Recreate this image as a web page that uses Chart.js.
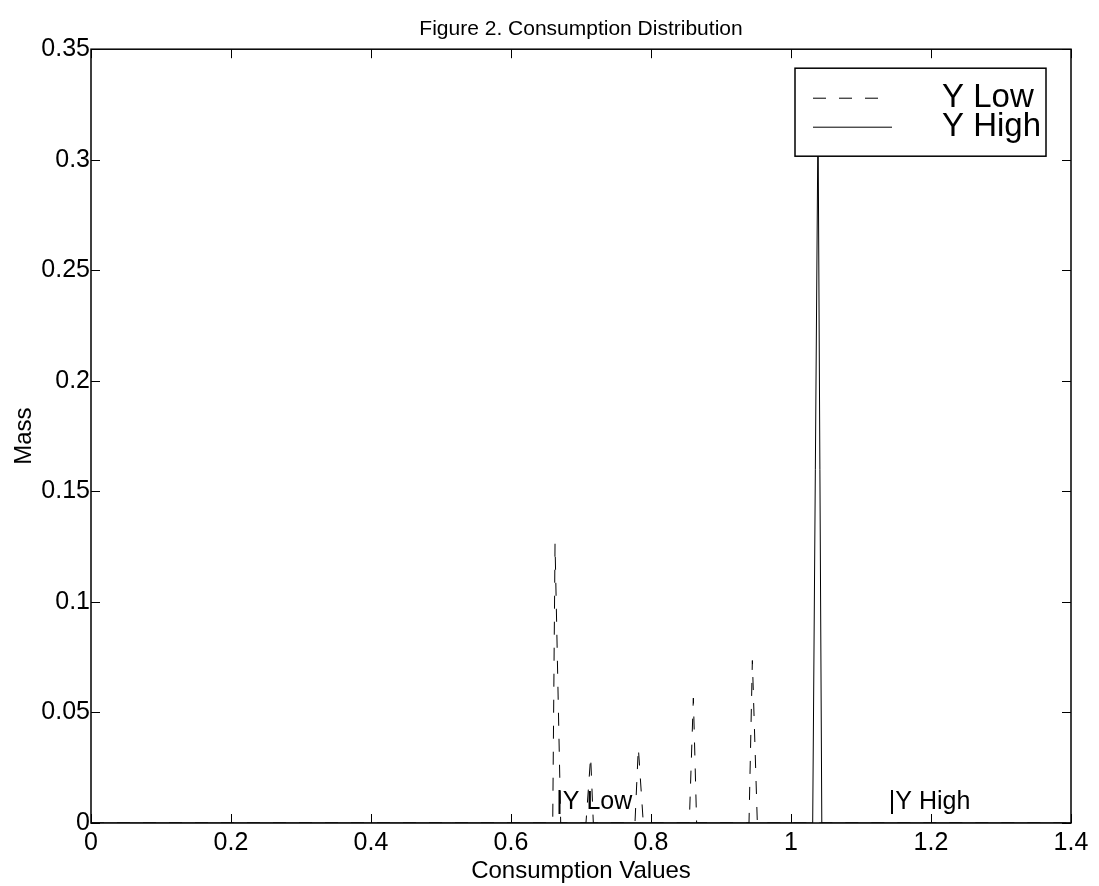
<!DOCTYPE html>
<html lang="en">
<head>
<meta charset="UTF-8">
<title>Consumption Distribution</title>
<script src="https://cdn.jsdelivr.net/npm/chart.js"></script>
<style>
  html, body { margin: 0; padding: 0; background: #fff; }
  #wrap { width: 1099px; height: 886px; }
</style>
</head>
<body>
<div id="wrap"><canvas id="distChart" width="1099" height="886"></canvas></div>
<script>
// data
const yLowX    = [0, 0.6596, 0.6629, 0.6710, 0.7071, 0.7138, 0.7176, 0.7771, 0.7819, 0.7890, 0.8547, 0.8605, 0.8652, 0.9400, 0.9448, 0.9519, 1.4];
const yLowMass = [0, 0,      0.1263, 0,      0,      0.0300, 0,      0,      0.0340, 0,      0,      0.0565, 0,      0,      0.0735, 0,      0];
const yHighX    = [0, 1.0310, 1.0386, 1.0440, 1.4];
const yHighMass = [0, 0,      0.3200, 0,      0];

const xTicks = [0, 0.2, 0.4, 0.6, 0.8, 1, 1.2, 1.4];
const yTicks = [0, 0.05, 0.1, 0.15, 0.2, 0.25, 0.3, 0.35];

const seriesNames = ['Y Low', 'Y High'];
const markerLabels = ['|Y Low', '|Y High'];
const markerX = [0.669, 1.144];
const markerY = [0.0065, 0.0065];

const FONT = "'Liberation Sans', Arial, sans-serif";

function toPoints(xs, ys) {
    return xs.map((x, i) => ({ x: x, y: ys[i] }));
}

// box round the axes, inward ticks, legend and the two text markers
const matlabLook = {
    id: 'matlabLook',
    afterDatasetsDraw(chart) {
        const ctx = chart.ctx;
        const a = chart.chartArea;
        const xs = chart.scales.x, ys = chart.scales.y;
        ctx.save();
        ctx.strokeStyle = '#000';
        ctx.lineWidth = 1;
        const tl = 9;
        ctx.beginPath();
        xTicks.forEach(v => {
            const px = Math.round(xs.getPixelForValue(v)) + 0.5;
            ctx.moveTo(px, a.bottom); ctx.lineTo(px, a.bottom - tl);
            ctx.moveTo(px, a.top); ctx.lineTo(px, a.top + tl);
        });
        yTicks.forEach(v => {
            const py = Math.round(ys.getPixelForValue(v)) + 0.5;
            ctx.moveTo(a.left, py); ctx.lineTo(a.left + tl, py);
            ctx.moveTo(a.right, py); ctx.lineTo(a.right - tl, py);
        });
        ctx.stroke();
        ctx.lineWidth = 1.5;
        ctx.strokeRect(a.left, a.top, a.right - a.left, a.bottom - a.top);

        // markers under the peaks
        ctx.fillStyle = '#000';
        ctx.font = '25px ' + FONT;
        ctx.textBaseline = 'alphabetic';
        ctx.textAlign = 'left';
        markerLabels.forEach((t, i) => {
            ctx.fillText(t, xs.getPixelForValue(markerX[i]) - 3, ys.getPixelForValue(markerY[i]));
        });

        // legend
        const lx = a.right - 276, ly = a.top + 19, lw = 251, lh = 88;
        ctx.fillStyle = '#fff';
        ctx.fillRect(lx, ly, lw, lh);
        ctx.lineWidth = 1.5;
        ctx.strokeStyle = '#000';
        ctx.strokeRect(lx, ly, lw, lh);
        chart.data.datasets.forEach((ds, i) => {
            const cy = ly + 30 + i * 29;
            ctx.beginPath();
            ctx.lineWidth = 1;
            ctx.setLineDash(ds.borderDash || []);
            ctx.moveTo(lx + 18, cy);
            ctx.lineTo(lx + (i === 0 ? 84 : 97), cy);
            ctx.stroke();
            ctx.setLineDash([]);
            ctx.fillStyle = '#000';
            ctx.font = '33px ' + FONT;
            ctx.textBaseline = 'alphabetic';
            ctx.fillText(ds.label, lx + 147, cy + 8.5);
        });
        ctx.restore();
    }
};

const ctx = document.getElementById('distChart').getContext('2d');
const distChart = new Chart(ctx, {
    type: 'scatter',
    data: {
        datasets: [{
            label: seriesNames[0],
            data: toPoints(yLowX, yLowMass),
            showLine: true,
            borderColor: '#000',
            borderWidth: 1,
            borderDash: [13, 13],
            pointRadius: 0,
            tension: 0
        }, {
            label: seriesNames[1],
            data: toPoints(yHighX, yHighMass),
            showLine: true,
            borderColor: '#000',
            borderWidth: 1,
            pointRadius: 0,
            tension: 0
        }]
    },
    options: {
        responsive: false,
        animation: false,
        layout: { padding: { left: 0, right: 28, top: 0, bottom: 0 } },
        plugins: {
            legend: { display: false },
            tooltip: { enabled: false },
            title: {
                display: true,
                text: 'Figure 2. Consumption Distribution',
                fullSize: false,
                color: '#000',
                font: { family: FONT, size: 21, weight: 'normal' },
                padding: { top: 17, bottom: 7 }
            }
        },
        scales: {
            x: {
                type: 'linear',
                min: 0,
                max: 1.4,
                afterBuildTicks: s => { s.ticks = xTicks.map(v => ({ value: v })); },
                afterFit: s => { s.height = 63; },
                grid: { display: false, drawTicks: false },
                border: { display: false },
                ticks: {
                    color: '#000',
                    padding: 5,
                    maxRotation: 0,
                    font: { family: FONT, size: 25 },
                    callback: v => String(v)
                },
                title: {
                    display: true,
                    text: 'Consumption Values',
                    color: '#000',
                    font: { family: FONT, size: 24 },
                    padding: { top: 4, bottom: 0 }
                }
            },
            y: {
                type: 'linear',
                min: 0,
                max: 0.35,
                afterBuildTicks: s => { s.ticks = yTicks.map(v => ({ value: v })); },
                afterFit: s => { s.width = 91; },
                grid: { display: false, drawTicks: false },
                border: { display: false },
                ticks: {
                    color: '#000',
                    padding: 1,
                    font: { family: FONT, size: 25 },
                    callback: v => String(v)
                },
                title: {
                    display: true,
                    text: 'Mass',
                    color: '#000',
                    font: { family: FONT, size: 24 },
                    padding: { top: 10, bottom: 0 }
                }
            }
        }
    },
    plugins: [matlabLook]
});
</script>
</body>
</html>
